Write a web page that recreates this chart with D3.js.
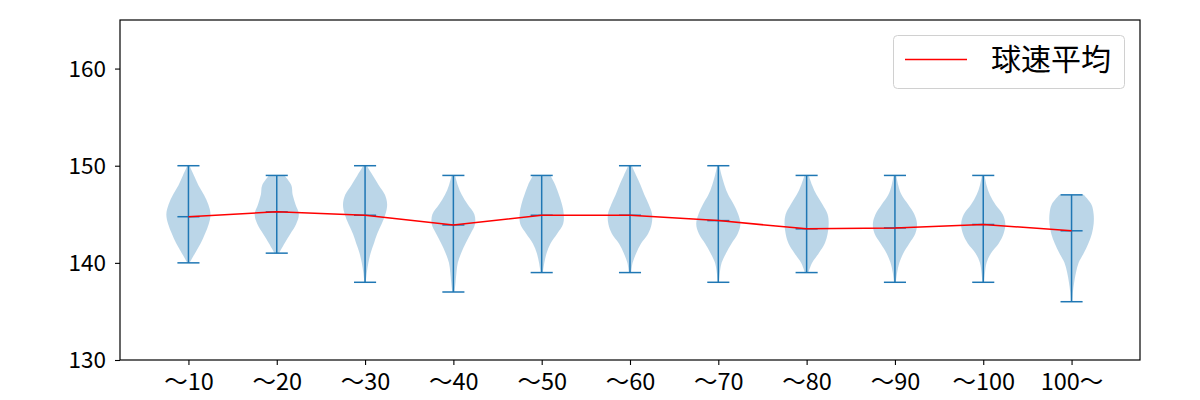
<!DOCTYPE html>
<html><head><meta charset="utf-8">
<script src="https://cdn.jsdelivr.net/npm/d3@7"></script>
<style>body{margin:0;background:#fff}svg{display:block}text{font-family:"Noto Sans CJK JP","Noto Sans",sans-serif;fill:#000}</style>
</head><body><svg id="c" width="1200" height="400"></svg>
<script>
const categories = ["～10","～20","～30","～40","～50","～60","～70","～80","～90","～100","100～"];
const mins  = [140,141,138,137,139,139,138,139,138,138,136];
const maxs  = [150,149,150,149,149,150,150,149,149,149,147];
const means = [144.75,145.25,144.9,143.9,144.9,144.9,144.35,143.5,143.6,143.95,143.3];
// relative half-widths at each integer speed from min to max
const densities = [
  [0.05,0.3,0.55,0.75,0.92,1.0,0.9,0.7,0.45,0.25,0.05],
  [0.1,0.35,0.62,0.88,1.0,0.85,0.72,0.66,0.35],
  [0.03,0.08,0.15,0.25,0.4,0.55,0.75,0.92,1.0,0.9,0.62,0.35,0.08],
  [0.05,0.1,0.14,0.2,0.35,0.55,0.78,0.98,0.95,0.65,0.38,0.2,0.08],
  [0.05,0.12,0.22,0.4,0.7,0.97,1.0,0.92,0.78,0.62,0.4],
  [0.05,0.12,0.28,0.5,0.82,0.98,1.0,0.85,0.65,0.48,0.28,0.08],
  [0.03,0.07,0.15,0.35,0.6,0.88,1.0,0.9,0.7,0.45,0.28,0.15,0.05],
  [0.08,0.25,0.55,0.82,0.95,1.0,0.95,0.72,0.45,0.25,0.1],
  [0.04,0.1,0.2,0.38,0.65,0.92,1.0,0.88,0.6,0.3,0.15,0.06],
  [0.04,0.08,0.15,0.35,0.7,0.92,1.0,0.88,0.55,0.3,0.15,0.06],
  [0.03,0.06,0.12,0.2,0.32,0.55,0.76,0.92,1.0,1.0,0.9,0.55]
];
const yTicks = [130,140,150,160];
const legendLabel = "球速平均";

const svg = d3.select("#c");
const L=120,R=1140,T=20,B=360;
const x = d3.scaleLinear().domain([0.225,11.775]).range([L,R]);
const y = d3.scaleLinear().domain([130,165]).range([B,T]);
const blue="#1f77b4";
const halfW = 0.25, capW = 0.125;

const g = svg.append("g");
categories.forEach((c,i)=>{
  const pos=i+1;
  const pts = densities[i].map((d,k)=>({v:mins[i]+k,d}));
  const area = d3.area()
    .y(p=>y(p.v))
    .x0(p=>x(pos-halfW*p.d))
    .x1(p=>x(pos+halfW*p.d))
    .curve(d3.curveCatmullRom.alpha(0.5));
  g.append("path").attr("d",area(pts)).attr("fill",blue).attr("fill-opacity",0.3).attr("stroke","none");
});
categories.forEach((c,i)=>{
  const pos=i+1;
  g.append("line").attr("x1",x(pos)).attr("x2",x(pos)).attr("y1",y(mins[i])).attr("y2",y(maxs[i])).attr("stroke",blue).attr("stroke-width",1.5);
  [mins[i],maxs[i],means[i]].forEach(v=>{
    g.append("line").attr("x1",x(pos-capW)).attr("x2",x(pos+capW)).attr("y1",y(v)).attr("y2",y(v)).attr("stroke",blue).attr("stroke-width",1.5);
  });
});
const line = d3.line().x((d,i)=>x(i+1)).y(d=>y(d));
g.append("path").attr("d",line(means)).attr("fill","none").attr("stroke","#ff0000").attr("stroke-width",1.5);

// axes
const xa = svg.append("g").attr("transform",`translate(0,${B})`)
  .call(d3.axisBottom(x).tickValues(d3.range(1,12)).tickFormat(d=>categories[d-1]).tickSize(5).tickPadding(4));
const ya = svg.append("g").attr("transform",`translate(${L},0)`)
  .call(d3.axisLeft(y).tickValues(yTicks).tickSize(5).tickPadding(9));
[xa,ya].forEach(a=>{a.select(".domain").remove();a.selectAll("line").attr("stroke","#000").attr("stroke-width",1.1);a.selectAll("text").attr("font-size",22.5).attr("font-family",'"Noto Sans CJK JP",sans-serif');});
xa.selectAll("text").attr("font-size",23.5).attr("dy","0.9em");
ya.selectAll("text").attr("dy","0.34em");
svg.append("rect").attr("x",L).attr("y",T).attr("width",R-L).attr("height",B-T).attr("fill","none").attr("stroke","#000").attr("stroke-width",1.2);

// legend
const lg = svg.append("g");
lg.append("rect").attr("x",893.5).attr("y",35.5).attr("width",231).attr("height",53).attr("rx",4).attr("fill","#fff").attr("fill-opacity",0.8).attr("stroke","#d0d0d0");
lg.append("line").attr("x1",905).attr("x2",967).attr("y1",59.5).attr("y2",59.5).attr("stroke","#ff0000").attr("stroke-width",1.5);
lg.append("text").attr("x",991).attr("y",70).attr("font-size",30).text(legendLabel);
</script></body></html>
